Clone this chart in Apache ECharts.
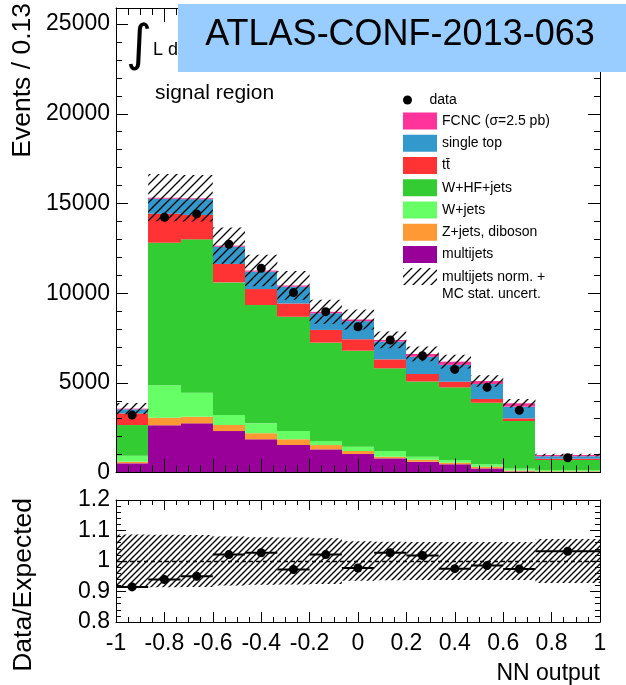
<!DOCTYPE html>
<html>
<head>
<meta charset="utf-8">
<script src="https://cdn.jsdelivr.net/npm/echarts@6/dist/echarts.min.js"></script>
<style>
  html, body { margin: 0; padding: 0; background: #ffffff; }
  #chart { width: 626px; height: 685px; }
</style>
</head>
<body>
<div id="chart"></div>
<script>
// NN output binning (last bin is merged: 0.733 .. 1)
const binEdges = [-1, -0.8667, -0.7333, -0.6, -0.4667, -0.3333, -0.2, -0.0667, 0.0667, 0.2, 0.3333, 0.4667, 0.6, 0.7333, 1];

// Expected events per bin, by process (stacked bottom to top)
const multijets = [513, 2630, 2740, 2310, 1850, 1530, 1290, 1030, 790, 600, 460, 230, 60, 40];
const zDiboson  = [90, 420, 370, 340, 340, 320, 240, 170, 90, 110, 90, 90, 50, 30];
const wJets     = [330, 1820, 1340, 560, 550, 460, 230, 240, 320, 170, 150, 140, 120, 70];
const wHFJets   = [1713, 7940, 8550, 7390, 6600, 6380, 5480, 5350, 4610, 4200, 4050, 3430, 2640, 560];
const ttbar     = [650, 1620, 1360, 1030, 890, 740, 710, 640, 500, 410, 310, 210, 150, 60];
const singleTop = [225, 840, 880, 960, 970, 930, 930, 1010, 990, 970, 940, 835, 650, 150];
const fcnc      = [40, 50, 50, 60, 60, 70, 80, 90, 90, 150, 180, 165, 190, 60];

// Observed events per bin
const dataCounts = [3200, 14230, 14420, 12730, 11390, 10030, 8970, 8130, 7390, 6510, 5750, 4750, 3470, 825];

// Data / expected per bin
const ratioValues = [0.915, 0.939, 0.950, 1.021, 1.027, 0.972, 1.021, 0.977, 1.027, 1.018, 0.975, 0.985, 0.974, 1.032];

// Relative uncertainty (multijets normalisation + MC statistics) per bin
const relUncert = [0.087, 0.086, 0.085, 0.080, 0.078, 0.077, 0.075, 0.065, 0.063, 0.062, 0.062, 0.062, 0.062, 0.072];

const FONT = "'Liberation Sans', Arial, Helvetica, sans-serif";

const processes = [
  { name: 'multijets',       values: multijets, color: '#990099' },
  { name: 'Z+jets, diboson', values: zDiboson,  color: '#FF9933' },
  { name: 'W+jets',          values: wJets,     color: '#66FF66' },
  { name: 'W+HF+jets',       values: wHFJets,   color: '#33CC33' },
  { name: 't\u0074\u0304',   values: ttbar,     color: '#FF3333' },
  { name: 'single top',      values: singleTop, color: '#3399CC' },
  { name: 'FCNC (\u03c3=2.5 pb)', values: fcnc, color: '#FF3399' }
];

const lowEdge = binEdges.slice(0, -1);
const highEdge = binEdges.slice(1);
const binCenter = lowEdge.map((v, i) => (v + highEdge[i]) / 2);

// Diagonal "///" hatch tile
function hatchTile(step, width) {
  const c = document.createElement('canvas');
  c.width = step; c.height = step;
  const ctx = c.getContext('2d');
  ctx.strokeStyle = '#000';
  ctx.lineWidth = width;
  ctx.beginPath();
  ctx.moveTo(0, step); ctx.lineTo(step, 0);
  ctx.moveTo(-step / 2, step / 2); ctx.lineTo(step / 2, -step / 2);
  ctx.moveTo(step / 2, step * 1.5); ctx.lineTo(step * 1.5, step / 2);
  ctx.stroke();
  return c;
}
const hatchMain = { image: hatchTile(9, 1.3), repeat: 'repeat' };
const hatchRatio = { image: hatchTile(6, 1.35), repeat: 'repeat' };

// One histogram box: value(0)=x low, value(1)=x high, value(2)=y low, value(3)=y high
function histBox(params, api) {
  const a = api.coord([api.value(0), api.value(3)]);
  const b = api.coord([api.value(1), api.value(2)]);
  const x0 = Math.round(a[0]), x1 = Math.round(b[0]);
  return {
    type: 'rect',
    shape: { x: x0, y: a[1], width: x1 - x0, height: b[1] - a[1] },
    style: { fill: api.visual('color') }
  };
}
function hatchBox(pattern) {
  return function (params, api) {
    const a = api.coord([api.value(0), api.value(3)]);
    const b = api.coord([api.value(1), api.value(2)]);
    return {
      type: 'rect',
      shape: { x: a[0], y: a[1], width: b[0] - a[0], height: b[1] - a[1] },
      style: { fill: pattern }
    };
  };
}
function xErrorBar(params, api) {
  const a = api.coord([api.value(0), api.value(2)]);
  const b = api.coord([api.value(1), api.value(2)]);
  return {
    type: 'line',
    shape: { x1: a[0], y1: a[1], x2: b[0], y2: b[1] },
    style: { stroke: '#000', lineWidth: 2 }
  };
}

// Stacked background + signal histograms
const cumulative = new Array(dataCounts.length).fill(0);
const stackSeries = processes.map(p => {
  const boxes = p.values.map((v, i) => {
    const box = [lowEdge[i], highEdge[i], cumulative[i], cumulative[i] + v];
    cumulative[i] += v;
    return box;
  });
  return {
    type: 'custom', name: p.name, xAxisIndex: 0, yAxisIndex: 0,
    renderItem: histBox, itemStyle: { color: p.color },
    encode: { x: [0, 1], y: [2, 3] }, data: boxes, z: 2, silent: true
  };
});
const totalExpected = cumulative.slice();

const uncertMain = totalExpected.map((t, i) => [lowEdge[i], highEdge[i], t * (1 - relUncert[i]), t * (1 + relUncert[i])]);
const uncertRatio = relUncert.map((r, i) => [lowEdge[i], highEdge[i], 1 - r, 1 + r]);

const frameLine = { show: true, onZero: false, lineStyle: { color: '#000', width: 1 } };
const noLine = { show: false, onZero: false };

function frameX(grid, pos, major, minor, extra) {
  return Object.assign({
    type: 'value', gridIndex: grid, position: pos, min: -1, max: 1, interval: 0.2, z: 10,
    axisLine: frameLine,
    axisTick: { show: true, inside: true, length: major, lineStyle: { color: '#000', width: 1 } },
    minorTick: { show: true, splitNumber: 4, length: minor, lineStyle: { color: '#000', width: 1 } },
    splitLine: { show: false }, minorSplitLine: { show: false },
    axisLabel: { show: false }
  }, extra || {});
}
function frameY(grid, pos, min, max, interval, len, extra) {
  return Object.assign({
    type: 'value', gridIndex: grid, position: pos, min: min, max: max, interval: interval, z: 10,
    axisLine: frameLine,
    axisTick: { show: true, inside: true, length: len, lineStyle: { color: '#000', width: 1 } },
    splitLine: { show: false },
    axisLabel: { show: false }
  }, extra || {});
}

const labelStyle = { show: true, color: '#000', fontFamily: FONT, fontSize: 23 };
const ratioMinor = { show: true, splitNumber: 5, length: 5, lineStyle: { color: '#000', width: 1 } };

const option = {
  animation: false,
  backgroundColor: '#ffffff',
  textStyle: { fontFamily: FONT },
  grid: [
    { left: 116, top: 8, width: 484, height: 464.5, outerBoundsMode: 'none', show: false },
    { left: 116, top: 500, width: 484, height: 122, outerBoundsMode: 'none', show: false }
  ],
  xAxis: [
    frameX(0, 'bottom', 14, 7),
    frameX(0, 'top', 14, 7),
    frameX(1, 'bottom', 10, 5, {
      axisLabel: Object.assign({}, labelStyle, { margin: 10 }),
      name: 'NN output', nameLocation: 'end', nameGap: 0, nameMoveOverlap: false,
      nameTextStyle: { color: '#000', fontFamily: FONT, fontSize: 23, align: 'right', verticalAlign: 'top', padding: [40, 0, 0, 0] }
    }),
    frameX(1, 'top', 10, 5)
  ],
  yAxis: [
    frameY(0, 'left', 0, 25900, 5000, 12, {
      axisLabel: Object.assign({}, labelStyle, { margin: 6, showMaxLabel: false, formatter: v => String(v) })
    }),
    frameY(0, 'left', 0, 25900, 1000, 6, { axisLine: noLine }),
    frameY(0, 'right', 0, 25900, 5000, 12),
    frameY(0, 'right', 0, 25900, 1000, 6, { axisLine: noLine }),
    frameY(1, 'left', 0.8, 1.2, 0.1, 10, {
      axisLabel: Object.assign({}, labelStyle, { margin: 6 }),
      minorTick: ratioMinor
    }),
    frameY(1, 'right', 0.8, 1.2, 0.1, 10, { minorTick: ratioMinor })
  ],
  legend: [
    {
      data: ['data'], left: 403, top: 93, orient: 'vertical', selectedMode: false,
      itemWidth: 34, itemHeight: 9, padding: 0,
      textStyle: { color: '#000', fontFamily: FONT, fontSize: 14 }
    },
    {
      data: ['FCNC (\u03c3=2.5 pb)', 'single top', 't\u0074\u0304', 'W+HF+jets', 'W+jets', 'Z+jets, diboson', 'multijets'],
      left: 403, top: 112.5, orient: 'vertical', selectedMode: false, icon: 'rect',
      itemWidth: 34, itemHeight: 17, itemGap: 5.25, padding: 0,
      textStyle: { color: '#000', fontFamily: FONT, fontSize: 14 }
    }
  ],
  graphic: [
    { type: 'rect', left: 403, top: 268, shape: { width: 34, height: 17 }, style: { fill: hatchMain }, z: 20 },
    { type: 'text', x: 442, y: 276.7, style: { text: 'multijets norm. +', fill: '#000', font: '14px ' + FONT, align: 'left', verticalAlign: 'middle' }, z: 20 },
    { type: 'text', x: 442, y: 294, style: { text: 'MC stat. uncert.', fill: '#000', font: '14px ' + FONT, align: 'left', verticalAlign: 'middle' }, z: 20 },
    { type: 'text', x: 155, y: 93, style: { text: 'signal region', fill: '#000', font: '21px ' + FONT, align: 'left', verticalAlign: 'middle' }, z: 20 },
    { type: 'text', x: 139, y: 47, style: { text: '\u222b', fill: '#000', font: '50px "DejaVu Sans"', align: 'center', verticalAlign: 'middle' }, z: 20 },
    { type: 'text', x: 153, y: 50, style: { text: 'L d', fill: '#000', font: '18px ' + FONT, align: 'left', verticalAlign: 'middle' }, z: 20 },
    { type: 'rect', left: 178, top: 4, shape: { width: 448, height: 68 }, style: { fill: '#99CCFF' }, z: 100 },
    { type: 'text', x: 400, y: 35, style: { text: 'ATLAS-CONF-2013-063', fill: '#000', font: '36px ' + FONT, align: 'center', verticalAlign: 'middle' }, z: 101 },
    { type: 'text', x: 23, y: 3, rotation: Math.PI / 2, style: { text: 'Events / 0.13', fill: '#000', font: '26.5px ' + FONT, align: 'right', verticalAlign: 'middle' }, z: 20 },
    { type: 'text', x: 24, y: 498, rotation: Math.PI / 2, style: { text: 'Data/Expected', fill: '#000', font: '26.5px ' + FONT, align: 'right', verticalAlign: 'middle' }, z: 20 }
  ],
  series: stackSeries.concat([
    {
      type: 'custom', name: 'uncertainty', xAxisIndex: 0, yAxisIndex: 0,
      renderItem: hatchBox(hatchMain), encode: { x: [0, 1], y: [2, 3] },
      data: uncertMain, z: 3, silent: true
    },
    {
      type: 'scatter', name: 'data', xAxisIndex: 0, yAxisIndex: 0,
      symbol: 'circle', symbolSize: 9, itemStyle: { color: '#000', opacity: 1 },
      data: binCenter.map((x, i) => [x, dataCounts[i]]), z: 4, silent: true
    },
    {
      type: 'custom', name: 'ratio uncertainty', xAxisIndex: 2, yAxisIndex: 4,
      renderItem: hatchBox(hatchRatio), encode: { x: [0, 1], y: [2, 3] },
      data: uncertRatio, z: 3, silent: true
    },
    {
      type: 'custom', name: 'ratio bins', xAxisIndex: 2, yAxisIndex: 4,
      renderItem: xErrorBar, encode: { x: [0, 1], y: 2 },
      data: ratioValues.map((r, i) => [lowEdge[i], highEdge[i], r]), z: 4, silent: true
    },
    {
      type: 'scatter', name: 'ratio', xAxisIndex: 2, yAxisIndex: 4,
      symbol: 'circle', symbolSize: 9, itemStyle: { color: '#000', opacity: 1 },
      data: binCenter.map((x, i) => [x, ratioValues[i]]), z: 5, silent: true,
      markLine: {
        silent: true, symbol: 'none', label: { show: false },
        lineStyle: { color: '#000', type: [4, 3], width: 1.3 },
        data: [{ yAxis: 1 }]
      }
    }
  ])
};

const chart = echarts.init(document.getElementById('chart'));
chart.setOption(option);
</script>
</body>
</html>
